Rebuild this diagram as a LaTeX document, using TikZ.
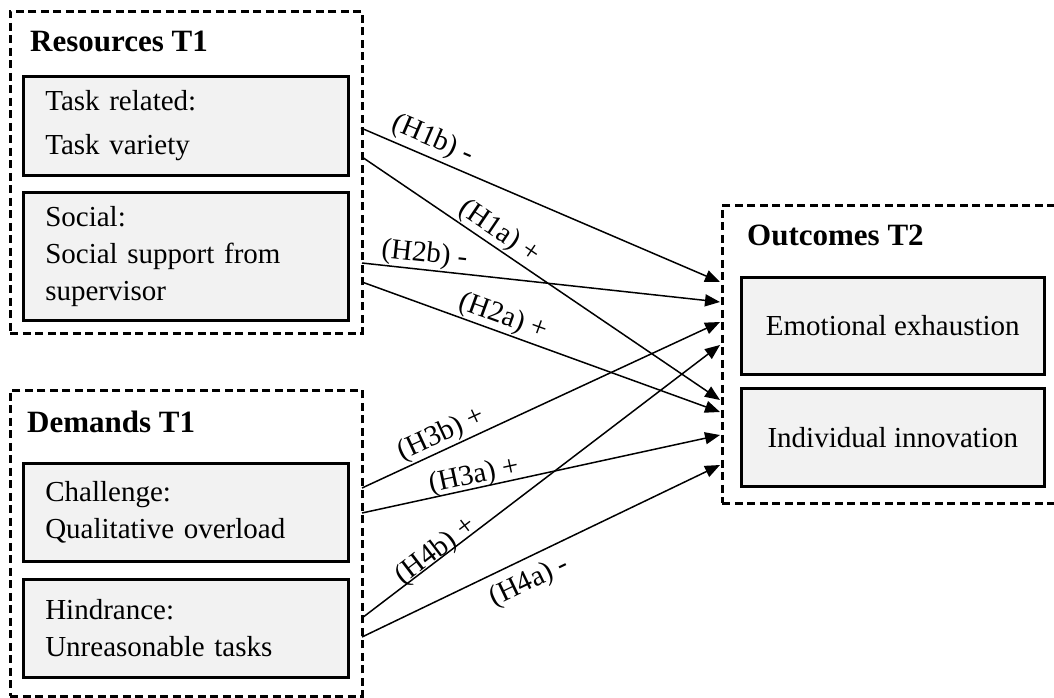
\documentclass[tikz,border=0pt]{standalone}
\usepackage{fontspec}
\setmainfont{Liberation Serif}
\usetikzlibrary{arrows.meta}
\definecolor{boxgray}{HTML}{F2F2F2}
\begin{document}
\begin{tikzpicture}[x=1pt,y=-1pt,
  container/.style={draw, line width=2.6pt, dash pattern=on 8pt off 4.5pt, anchor=north west, inner sep=0pt},
  varbox/.style={draw, line width=2.6pt, fill=boxgray, anchor=north west, minimum width=325pt,
     text width=281pt, inner xsep=22pt, inner ysep=0pt, align=left, font=\fontsize{29}{37}\selectfont},
  outbox/.style={draw, line width=2.6pt, fill=boxgray, anchor=north west, minimum width=303pt,
     minimum height=97pt, align=center, inner sep=0pt, font=\fontsize{29}{35}\selectfont},
  grouptitle/.style={anchor=base west, inner sep=0pt, font=\bfseries\fontsize{31}{37}\selectfont},
  arr/.style={line width=1.5pt, -{Triangle[length=15pt,width=12pt]}},
  hyp/.style={sloped, inner sep=1pt, font=\fontsize{29}{30}\selectfont}
]
\useasboundingbox (0,0) rectangle (1054,698);

% containers
\node[container, minimum width=352pt, minimum height=322pt] (res) at (9,10) {};
\node[container, minimum width=352pt, minimum height=306pt] (dem) at (9,389) {};
\node[container, minimum width=380pt, minimum height=298pt] (out) at (721,204) {};

% titles
\node[grouptitle] (resT) at (30,52) {Resources T1};
\node[grouptitle] (demT) at (27,432) {Demands T1};
\node[grouptitle] (outT) at (747,245) {Outcomes T2};

% variable boxes
\node[varbox, minimum height=99pt, font=\fontsize{29}{44}\selectfont] (task) at (22,75) {Task related:\\Task variety};
\node[varbox, minimum height=128pt] (soc) at (22,191) {Social:\\Social support from\\supervisor};
\node[varbox, minimum height=98pt] (chal) at (22,462) {Challenge:\\Qualitative overload};
\node[varbox, minimum height=98pt] (hind) at (22,578) {Hindrance:\\Unreasonable tasks};
\node[outbox] (ee) at (740,276) {Emotional exhaustion};
\node[outbox, minimum height=98pt] (ii) at (740,387) {Individual innovation};

% connector end points
\coordinate (s1b) at (361,128);
\coordinate (s1a) at (362,157);
\coordinate (s2b) at (362,263);
\coordinate (s2a) at (362,282);
\coordinate (s3b) at (362,488);
\coordinate (s3a) at (362,513);
\coordinate (s4b) at (362,618);
\coordinate (s4a) at (362,637);
\coordinate (e1b) at (720,282);
\coordinate (e2b) at (720,302);
\coordinate (e3b) at (720,322);
\coordinate (e4b) at (720,345);
\coordinate (e1a) at (720,400);
\coordinate (e2a) at (720,412);
\coordinate (e3a) at (720,435);
\coordinate (e4a) at (720,465);

\draw[arr] (s1b) -- node[hyp, pos=0.18, above=2.5pt] {(H1b) -} (e1b);
\draw[arr] (s1a) -- node[hyp, pos=0.36, above=0pt] {(H1a) +} (e1a);
\draw[arr] (s2b) -- node[hyp, pos=0.17, above=0pt] {(H2b) -} (e2b);
\draw[arr] (s2a) -- node[hyp, pos=0.38, above=0pt] {(H2a) +} (e2a);
\draw[arr] (s3b) -- node[hyp, pos=0.24, above=0pt] {(H3b) +} (e3b);
\draw[arr] (s3a) -- node[hyp, pos=0.32, above=-3pt] {(H3a) +} (e3a);
\draw[arr] (s4b) -- node[hyp, pos=0.22, above=-7pt] {(H4b) +} (e4b);
\draw[arr] (s4a) -- node[hyp, pos=0.44, below=8pt] {(H4a) -} (e4a);
\end{tikzpicture}
\end{document}
